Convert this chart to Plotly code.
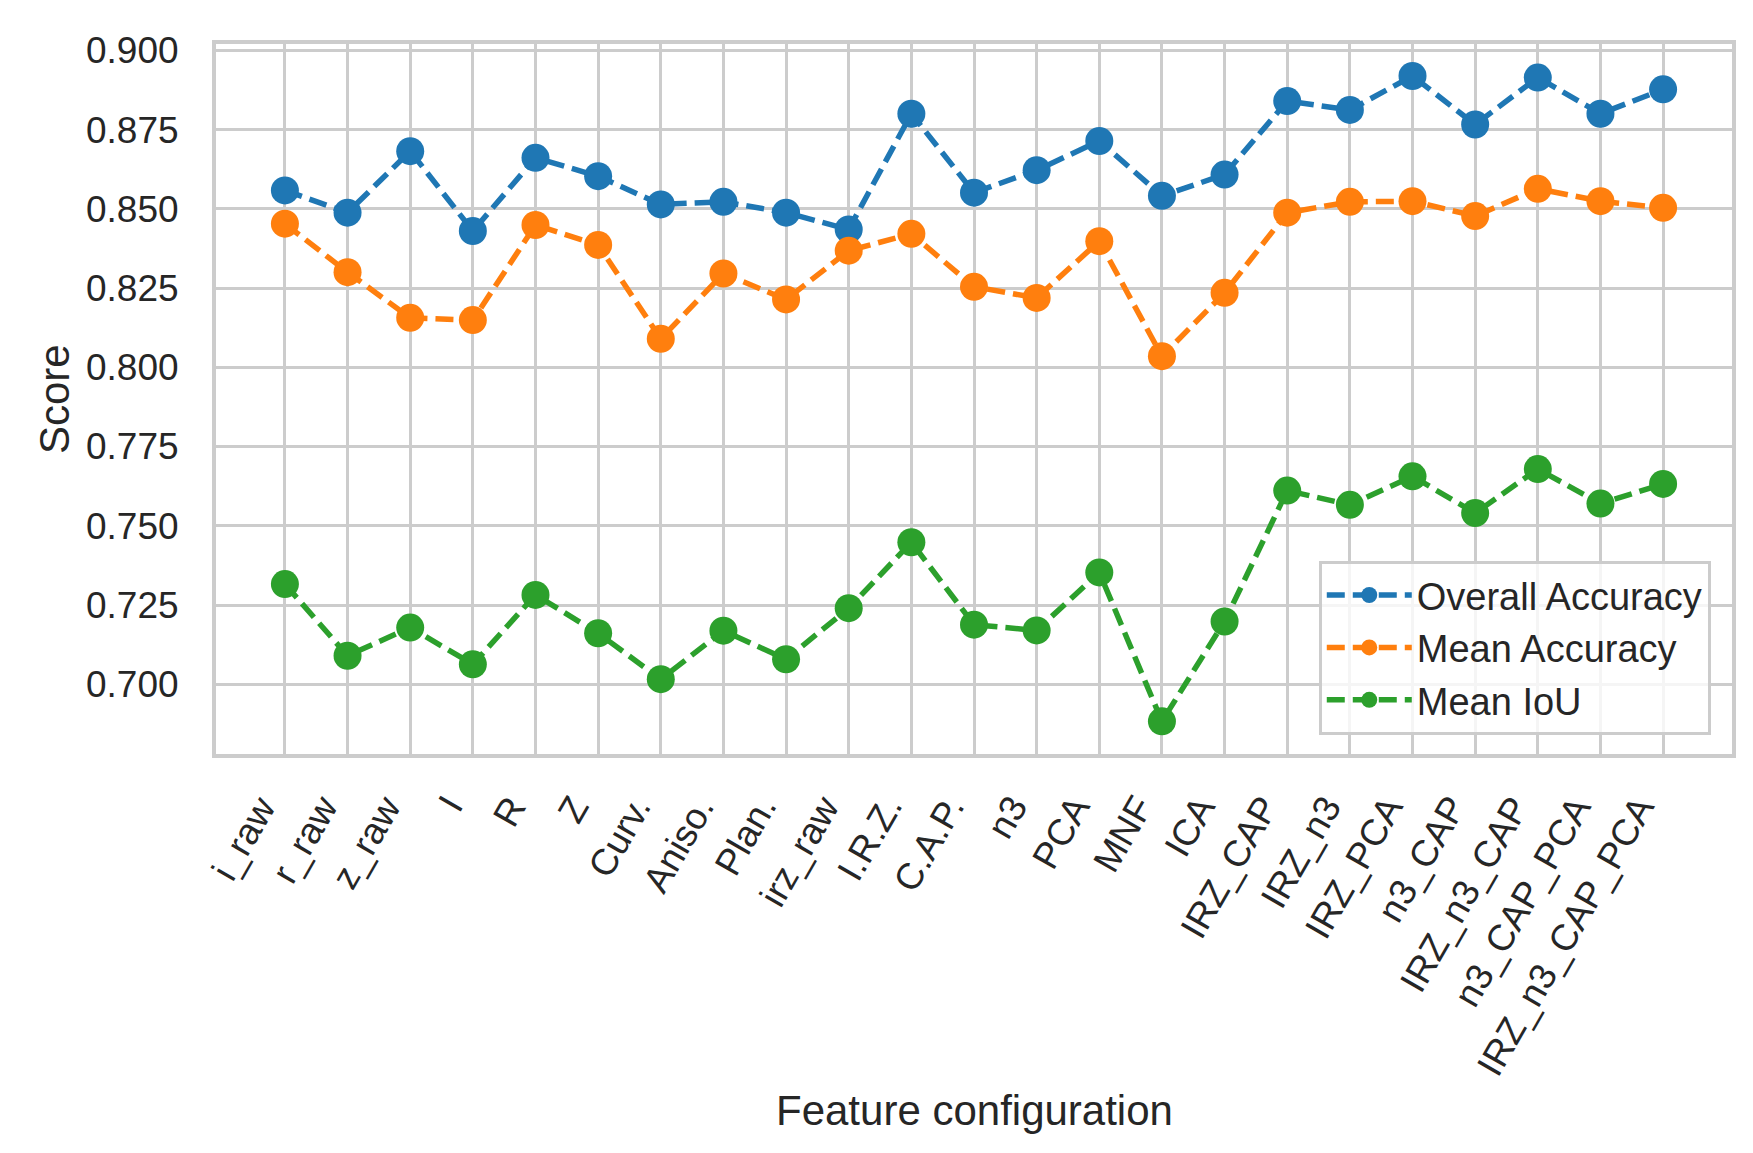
import plotly.graph_objects as go

categories = ["i_raw", "r_raw", "z_raw", "I", "R", "Z", "Curv.", "Aniso.", "Plan.",
              "irz_raw", "I.R.Z.", "C.A.P.", "n3", "PCA", "MNF", "ICA", "IRZ_CAP",
              "IRZ_n3", "IRZ_PCA", "n3_CAP", "IRZ_n3_CAP", "n3_CAP_PCA", "IRZ_n3_CAP_PCA"]

overall_accuracy = [0.8558, 0.8488, 0.8682, 0.8430, 0.8661, 0.8603, 0.8514, 0.8522, 0.8488,
                    0.8435, 0.8800, 0.8551, 0.8622, 0.8714, 0.8541, 0.8608, 0.8840,
                    0.8812, 0.8919, 0.8766, 0.8914, 0.8800, 0.8877]

mean_accuracy = [0.8453, 0.8300, 0.8156, 0.8149, 0.8449, 0.8386, 0.8090, 0.8296, 0.8214,
                 0.8368, 0.8421, 0.8254, 0.8219, 0.8398, 0.8035, 0.8235, 0.8488,
                 0.8522, 0.8524, 0.8477, 0.8563, 0.8524, 0.8503]

mean_iou = [0.7316, 0.7090, 0.7179, 0.7063, 0.7282, 0.7161, 0.7016, 0.7169, 0.7079,
            0.7240, 0.7448, 0.7188, 0.7170, 0.7353, 0.6883, 0.7198, 0.7611,
            0.7566, 0.7656, 0.7540, 0.7679, 0.7570, 0.7632]

series_names = ["Overall Accuracy", "Mean Accuracy", "Mean IoU"]
series_values = [overall_accuracy, mean_accuracy, mean_iou]
series_colors = ["#1f77b4", "#ff7f0e", "#2ca02c"]

y_tick_vals = [0.700, 0.725, 0.750, 0.775, 0.800, 0.825, 0.850, 0.875, 0.900]

FONT = "Arial, Liberation Sans, sans-serif"
TEXT = "#262626"
GRID = "#cccccc"

fig = go.Figure()
for name, vals, col in zip(series_names, series_values, series_colors):
    fig.add_trace(go.Scatter(
        x=categories, y=vals, name=name, mode="lines+markers",
        line=dict(color=col, width=5.5, dash="18px,8px"),
        marker=dict(color=col, size=28, line=dict(width=0)),
    ))

# x tick labels drawn as rotated annotations anchored by their rotated box
# (top-right corner at the tick), like rotation=60 / ha="right"
tick_annotations = [
    dict(text=c, x=c, xref="x", y=0, yref="paper", xanchor="right", yanchor="top",
         yshift=-34, textangle=-60, showarrow=False, borderpad=0,
         font=dict(family=FONT, size=37, color=TEXT))
    for c in categories
]

fig.update_layout(
    width=1753, height=1153,
    margin=dict(l=208, r=29, t=36, b=407),
    paper_bgcolor="white", plot_bgcolor="white",
    font=dict(family=FONT, size=37, color=TEXT),
    showlegend=True,
    legend=dict(
        x=0.986, y=0.027, xanchor="right", yanchor="bottom",
        bgcolor="rgba(255,255,255,0.8)", bordercolor=GRID, borderwidth=3,
        font=dict(family=FONT, size=38, color=TEXT),
        itemwidth=85, tracegroupgap=0,
    ),
    xaxis=dict(
        type="category", categoryorder="array", categoryarray=categories,
        range=[-1.1, 23.1], showticklabels=False,
        showgrid=True, gridcolor=GRID, gridwidth=3,
        showline=True, linecolor=GRID, linewidth=4, mirror=True,
        ticks="", zeroline=False,
    ),
    yaxis=dict(
        range=[0.678, 0.902], tickvals=y_tick_vals, tickformat=".3f",
        showgrid=True, gridcolor=GRID, gridwidth=3,
        showline=True, linecolor=GRID, linewidth=4, mirror=True,
        ticks="", ticklabelstandoff=26, zeroline=False,
        tickfont=dict(family=FONT, size=37, color=TEXT),
    ),
    annotations=tick_annotations + [
        dict(text="Feature configuration", xref="paper", yref="paper", x=0.5, y=0,
             xanchor="center", yanchor="middle", yshift=-356, showarrow=False,
             font=dict(family=FONT, size=42, color=TEXT)),
        dict(text="Score", xref="paper", yref="paper", x=0, y=0.5,
             xanchor="center", yanchor="middle", xshift=-162, textangle=-90,
             showarrow=False, font=dict(family=FONT, size=42, color=TEXT)),
    ],
)

fig.write_html("out.html")
